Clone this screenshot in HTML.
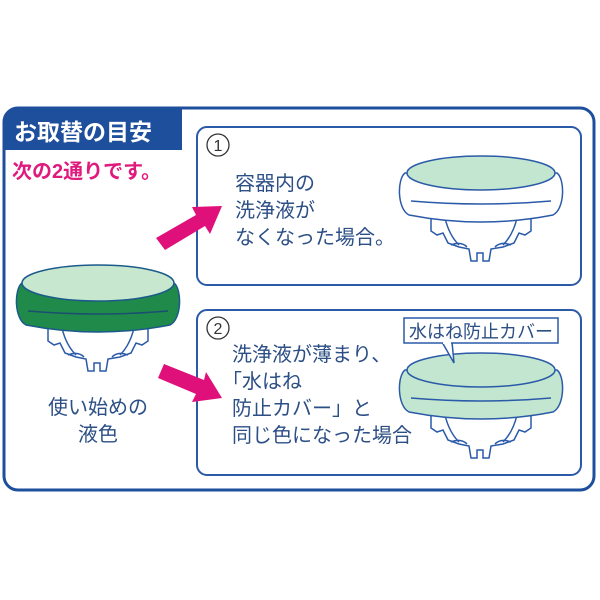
<!DOCTYPE html>
<html><head><meta charset="utf-8"><style>
body{margin:0;background:#fff}
svg{display:block}
text{font-family:"Liberation Sans","Noto Sans CJK JP",sans-serif}
</style></head><body>
<svg width="600" height="600" viewBox="0 0 600 600">
<defs>
<g id="legs" fill="#fff" stroke="#2a5aa8" stroke-width="1.5">
<path d="M-50,40 L-50,58 L-44,62 L-38,60 L-33,70 L-22,74 L-12,76 L-10,88 L-4,88 L-4,80 L2,80 L2,88 L8,88 L10,76 L22,74 L33,70 L38,60 L44,62 L50,58 L50,40 Z"/>
<path d="M-36,45 Q-32,62 -22,72 M36,45 Q32,62 22,72 M-30,72 Q-20,68 -14,74 M30,72 Q20,68 14,74" fill="none"/>
</g>
<path id="body" d="M-76,0 C-84,6 -84,36 -72,42 Q0,56 72,42 C84,36 84,6 76,0 Z"/>
</defs>
<rect x="4" y="108" width="590" height="382" rx="14" fill="#fff" stroke="#1d4f9c" stroke-width="3"/>
<path d="M4,150 L4,122 Q4,108 18,108 L182,108 L182,150 Z" fill="#1d4f9c"/>
<text x="14" y="140" font-size="23" font-weight="bold" fill="#fff">お取替の目安</text>
<text x="12" y="178" font-size="20" font-weight="bold" fill="#e0197d">次の2通りです。</text>
<rect x="197" y="127" width="384" height="158" rx="10" fill="#fff" stroke="#2a5aa8" stroke-width="2"/>
<rect x="197" y="310" width="384" height="165" rx="10" fill="#fff" stroke="#2a5aa8" stroke-width="2"/>
<circle cx="218" cy="145" r="11" fill="none" stroke="#333" stroke-width="1.3"/>
<text x="218" y="151" font-size="16" fill="#333" text-anchor="middle">1</text>
<circle cx="218" cy="328" r="11" fill="none" stroke="#333" stroke-width="1.3"/>
<text x="218" y="334" font-size="16" fill="#333" text-anchor="middle">2</text>
<g font-size="20" fill="#2c4f86">
<text x="235" y="190">容器内の</text>
<text x="235" y="217">洗浄液が</text>
<text x="235" y="244">なくなった場合。</text>
<text x="232" y="361">洗浄液が薄まり、</text>
<text x="222" y="388">「水はね</text>
<text x="232" y="415">防止カバー」と</text>
<text x="232" y="442">同じ色になった場合</text>
<text x="98" y="414" text-anchor="middle">使い始めの</text>
<text x="98" y="441" text-anchor="middle">液色</text>
</g>
<polygon points="156,238 196,215 192,207 222,206 210,234 205,226 165,250" fill="#e0107a"/>
<polygon points="158,378 196,394 192,402 222,398 206,372 204,380 164,364" fill="#e0107a"/>
<g transform="translate(98,283)">
<use href="#legs"/>
<use href="#body" fill="#1f8a4a" stroke="#1b5a8a" stroke-width="1.5"/>
<path d="M-70,28 Q0,34 70,28" fill="none" stroke="#1b4f70" stroke-width="1.5"/>
<ellipse cx="0" cy="0" rx="76" ry="18" fill="#c7e8cf" stroke="#1b5a8a" stroke-width="1.5"/>
</g>
<g transform="translate(481,173)">
<use href="#legs"/>
<use href="#body" fill="#fff" stroke="#2a5aa8" stroke-width="1.5"/>
<path d="M-70,28 Q0,34 70,28" fill="none" stroke="#2a5aa8" stroke-width="1.5"/>
<ellipse cx="0" cy="0" rx="74" ry="17" fill="#c2e6cf" stroke="#2a5aa8" stroke-width="1.5"/>
</g>
<g transform="translate(481,370)">
<use href="#legs"/>
<use href="#body" fill="#c2e6cf" stroke="#2a5aa8" stroke-width="1.5"/>
<path d="M-70,28 Q0,34 70,28" fill="none" stroke="#2a5aa8" stroke-width="1.5"/>
<ellipse cx="0" cy="0" rx="74" ry="17" fill="#c2e6cf" stroke="#2a5aa8" stroke-width="1.5"/>
</g>
<path d="M442,342 L454,363 L452,342" fill="#fff" stroke="#2a5aa8" stroke-width="1.5"/>
<rect x="404" y="318" width="154" height="25" fill="#fff" stroke="#2a5aa8" stroke-width="1.5"/>
<rect x="443" y="341" width="8" height="3" fill="#fff"/>
<text x="409" y="338" font-size="18" fill="#2c4f86">水はね防止カバー</text>
</svg>
</body></html>
